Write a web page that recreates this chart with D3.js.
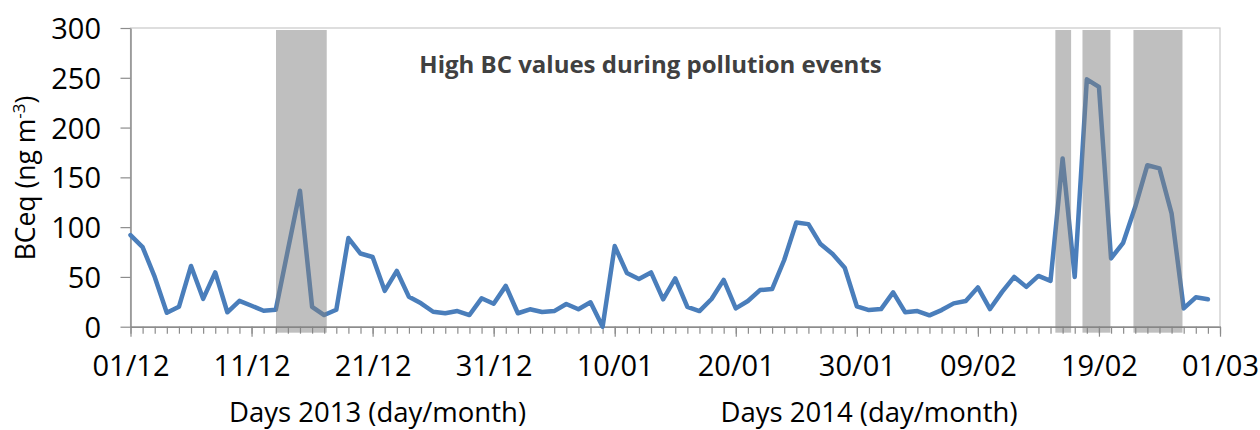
<!DOCTYPE html>
<html>
<head>
<meta charset="utf-8">
<script src="https://cdn.jsdelivr.net/npm/d3@7"></script>
<style>
  body { margin: 0; background: #fff; }
  svg { display: block; }
</style>
</head>
<body>
<svg id="chart" width="1260" height="430"></svg>
<script>
// daily BCeq (ng m-3), 01/12/2013 -> 28/02/2014
const bcValues = [
  92, 80, 50, 14, 20, 61, 28, 54.5, 14.5, 26,
  21, 16, 17, 77, 136.5, 20, 11.7, 17, 89, 73.5,
  70, 36, 56, 30, 23.5, 15, 13.5, 15.7, 11.7, 28.5,
  23, 41, 13.5, 17.5, 14.7, 15.7, 22.8, 17.5, 24.5, 0,
  81, 54, 48, 54.5, 27.5, 48.5, 20, 15.7, 27.8, 47,
  18.4, 25.8, 36.8, 37.8, 67, 104.7, 103, 83, 73, 59.2,
  20.5, 16.7, 17.7, 34.5, 14.4, 15.7, 11.4, 16.7, 23.4, 25.8,
  39.5, 17.7, 35, 50, 40, 51, 46, 169, 50, 248.5,
  240.8, 68.6, 84.3, 120.4, 162.2, 159, 113.8, 18.4, 29.5, 27.5
];

// x tick labels, one every 10 days
const tickDays = [0, 10, 20, 30, 40, 50, 60, 70, 80, 90];
const tickLabels = ['01/12', '11/12', '21/12', '31/12', '10/01', '20/01', '30/01', '09/02', '19/02', '01/03'];
const yTicks = [0, 50, 100, 150, 200, 250, 300];

// pollution events (grey bands), in days since 01/12
const eventStart = [12.02, 76.4, 78.64, 82.85];
const eventEnd = [16.21, 77.7, 80.95, 86.9];
const eventTop = 298;
const eventBottom = -6;

const svg = d3.select('#chart');
const margin = { left: 130.5, right: 40, top: 28, bottom: 103.3 };
const width = 1260, height = 430;
const font = "'Open Sans', sans-serif";

const x = d3.scaleLinear().domain([0, 90]).range([margin.left, width - margin.right]);
const y = d3.scaleLinear().domain([0, 300]).range([height - margin.bottom, margin.top]);

// plot area border
svg.append('rect')
  .attr('x', x(0)).attr('y', y(300))
  .attr('width', x(90) - x(0)).attr('height', y(0) - y(300))
  .attr('fill', 'none').attr('stroke', '#c8c8c8').attr('stroke-width', 1.2);

// minor day ticks
svg.append('g')
  .attr('transform', `translate(0,${y(0)})`)
  .call(d3.axisBottom(x).tickValues(d3.range(0, 91)).tickSize(7).tickSizeOuter(0).tickFormat(''))
  .call(g => g.selectAll('line').attr('stroke', '#8c8c8c').attr('stroke-width', 1.2))
  .call(g => g.select('.domain').attr('stroke', '#8c8c8c').attr('stroke-width', 1.5));

// major ticks + labels
const xAxis = svg.append('g')
  .attr('transform', `translate(0,${y(0)})`)
  .call(d3.axisBottom(x).tickValues(tickDays).tickSize(10).tickSizeOuter(0).tickPadding(19)
    .tickFormat((d, i) => tickLabels[i]));
xAxis.select('.domain').remove();
xAxis.selectAll('line').attr('stroke', '#8c8c8c').attr('stroke-width', 1.2);
xAxis.selectAll('text').attr('font-family', font).attr('font-size', 29).attr('fill', '#000');

const yAxis = svg.append('g')
  .attr('transform', `translate(${x(0)},0)`)
  .call(d3.axisLeft(y).tickValues(yTicks).tickSize(10).tickSizeOuter(0).tickPadding(19.5));
yAxis.select('.domain').attr('stroke', '#8c8c8c').attr('stroke-width', 1.5);
yAxis.selectAll('line').attr('stroke', '#8c8c8c').attr('stroke-width', 1.2);
yAxis.selectAll('text').attr('font-family', font).attr('font-size', 29).attr('fill', '#000')
  .attr('dy', '0.36em');

// BC line
const line = d3.line()
  .x((d, i) => x(i))
  .y(d => y(d));

svg.append('path')
  .datum(bcValues)
  .attr('d', line)
  .attr('fill', 'none')
  .attr('stroke', '#4a7ebb')
  .attr('stroke-width', 4.5)
  .attr('stroke-linejoin', 'round')
  .attr('stroke-linecap', 'round');

// grey event bands, drawn semi transparent on top
svg.append('g').selectAll('rect')
  .data(eventStart)
  .join('rect')
  .attr('x', d => x(d))
  .attr('width', (d, i) => x(eventEnd[i]) - x(d))
  .attr('y', y(eventTop))
  .attr('height', y(eventBottom) - y(eventTop))
  .attr('fill', '#808080')
  .attr('fill-opacity', 0.5);

// annotation
svg.append('text')
  .attr('x', 650.5).attr('y', 73)
  .attr('text-anchor', 'middle')
  .attr('font-family', font).attr('font-size', 24).attr('font-weight', 'bold')
  .attr('fill', '#404040')
  .text('High BC values during pollution events');

// axis titles
svg.append('text')
  .attr('x', 377.5).attr('y', 421.5)
  .attr('text-anchor', 'middle')
  .attr('font-family', font).attr('font-size', 27.5).attr('fill', '#000')
  .text('Days 2013 (day/month)');

svg.append('text')
  .attr('x', 869).attr('y', 421.5)
  .attr('text-anchor', 'middle')
  .attr('font-family', font).attr('font-size', 27.5).attr('fill', '#000')
  .text('Days 2014 (day/month)');

const yTitle = svg.append('text')
  .attr('transform', 'translate(35,178) rotate(-90)')
  .attr('text-anchor', 'middle')
  .attr('font-family', font).attr('font-size', 26.5).attr('fill', '#000');
yTitle.append('tspan').text('BCeq (ng m');
yTitle.append('tspan').attr('dy', -10).attr('font-size', 17).text('-3');
yTitle.append('tspan').attr('dy', 10).text(')');
</script>
</body>
</html>
